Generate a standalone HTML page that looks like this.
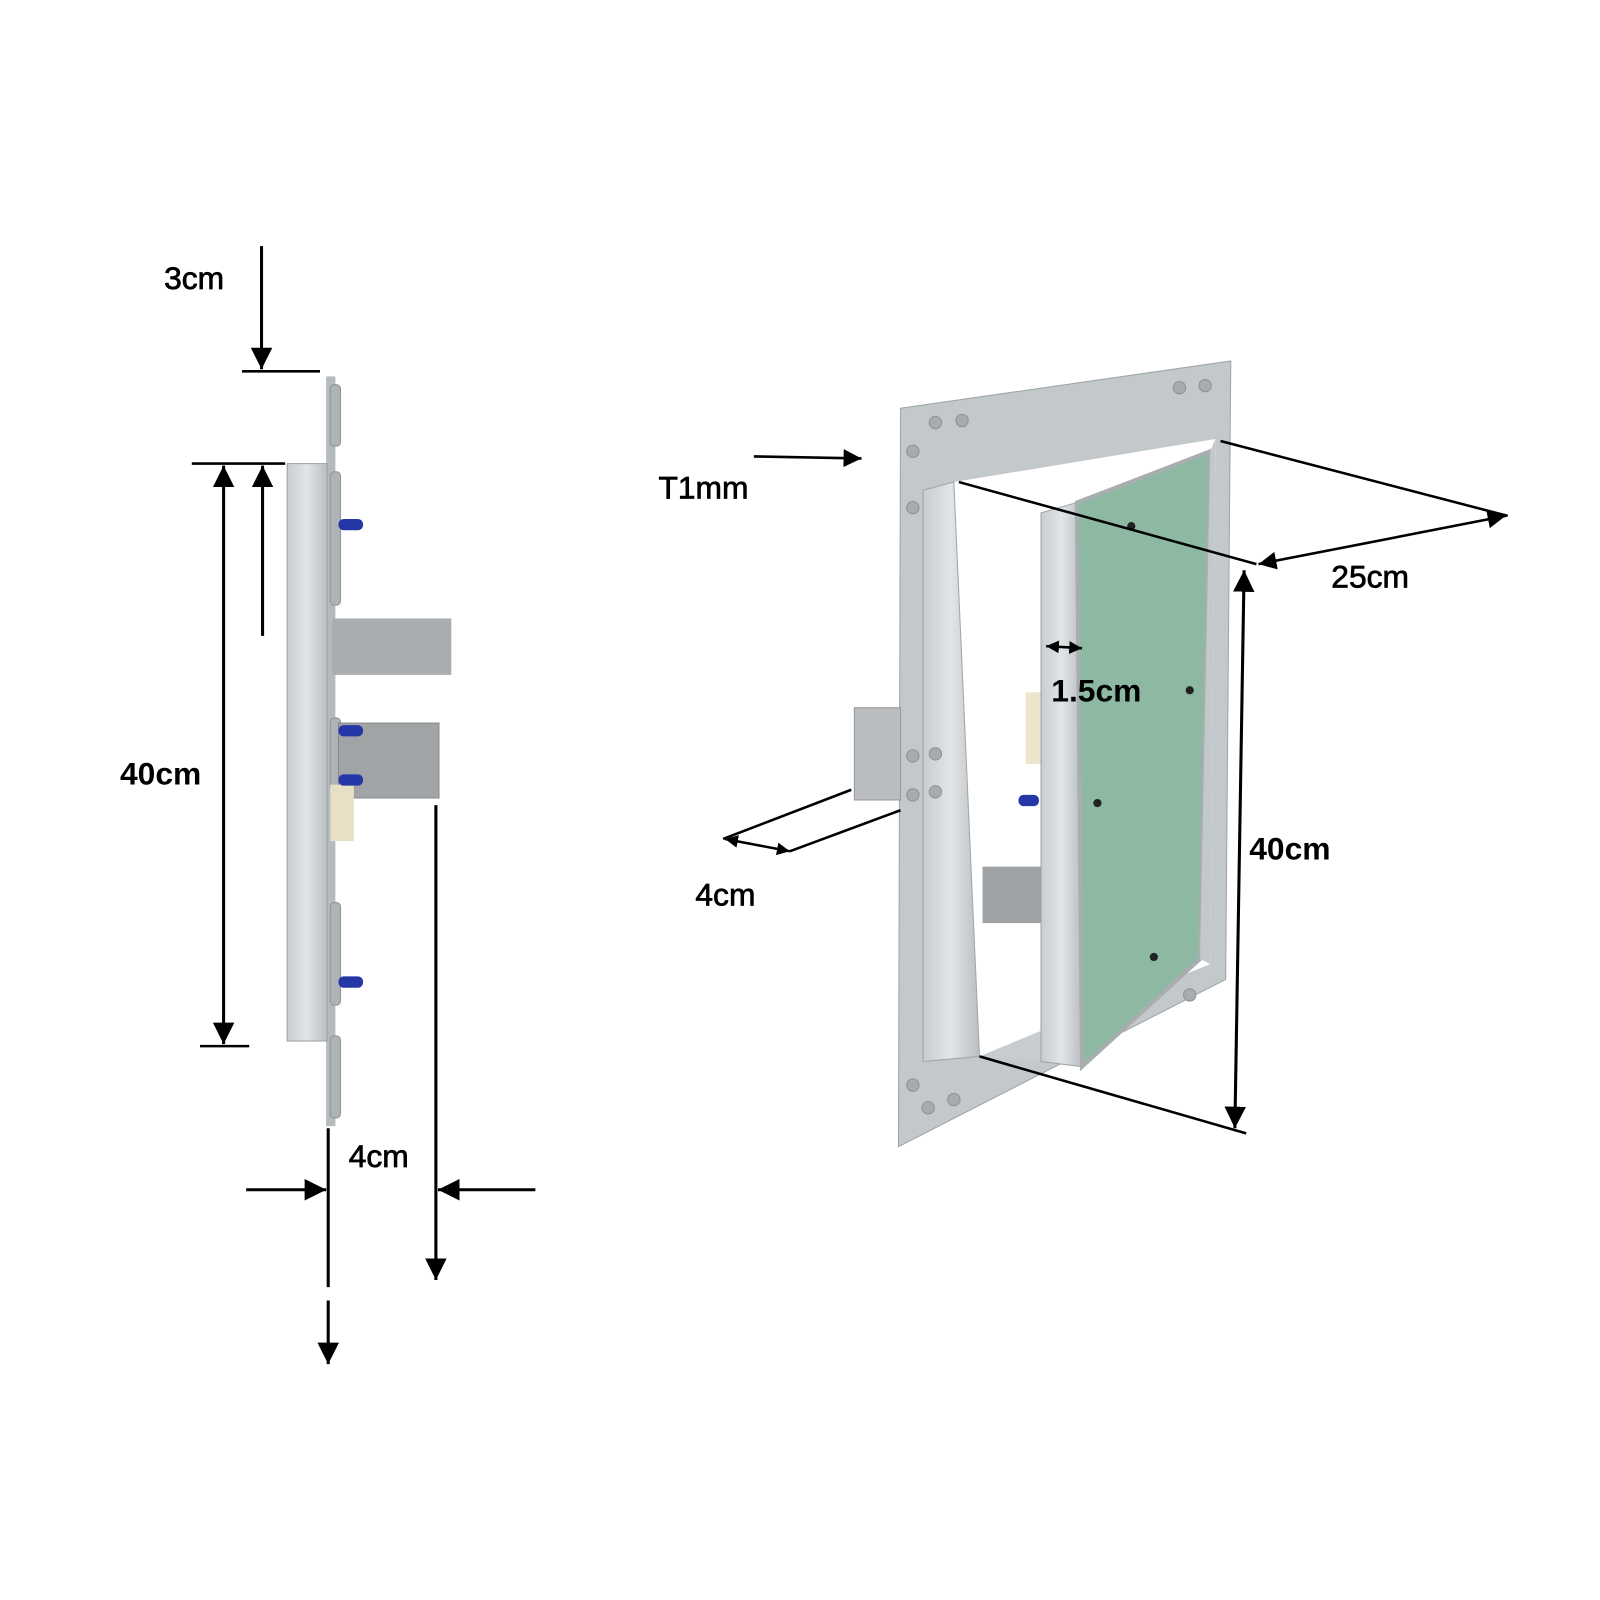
<!DOCTYPE html>
<html><head><style>html,body{margin:0;padding:0;background:#fff}svg{display:block}</style></head>
<body>
<svg width="1600" height="1600" viewBox="0 0 1560 1560" xmlns="http://www.w3.org/2000/svg" font-family="Liberation Sans, Arial, sans-serif">
<defs>
<marker id="a" viewBox="0 0 10 10" refX="10" refY="5" markerWidth="7" markerHeight="7" orient="auto-start-reverse"><path d="M0,0L10,5L0,10z" fill="#000"/></marker>
<marker id="s" viewBox="0 0 10 10" refX="10" refY="5" markerWidth="5" markerHeight="5" orient="auto-start-reverse"><path d="M0,0L10,5L0,10z" fill="#000"/></marker>
<linearGradient id="al" x1="0" x2="1"><stop offset="0" stop-color="#c9cdd0"/><stop offset=".5" stop-color="#e2e5e7"/><stop offset="1" stop-color="#b9bec2"/></linearGradient>
</defs>
<!-- LEFT side view -->
<rect x="318" y="367" width="9" height="731" fill="#b5babd"/>
<rect x="280" y="452" width="39" height="563" fill="url(#al)" stroke="#9aa0a4"/>
<g fill="#aeb3b6" stroke="#8d9397">
<rect x="322" y="375" width="10" height="60" rx="4"/><rect x="322" y="460" width="10" height="130" rx="4"/><rect x="322" y="700" width="10" height="70" rx="4"/><rect x="322" y="880" width="10" height="100" rx="4"/><rect x="322" y="1010" width="10" height="80" rx="4"/>
</g>
<rect x="324" y="603" width="116" height="55" fill="#a9adaf"/>
<rect x="330" y="705" width="98" height="73" fill="#a0a4a6" stroke="#888"/>
<rect x="322" y="765" width="23" height="55" fill="#e8e0c6"/>
<g fill="#2537a6"><rect x="330" y="506" width="24" height="11" rx="5"/><rect x="330" y="707" width="24" height="11" rx="5"/><rect x="330" y="755" width="24" height="11" rx="5"/><rect x="330" y="952" width="24" height="11" rx="5"/></g>
<g stroke="#000" stroke-width="3" fill="none">
<line x1="255" y1="240" x2="255" y2="360" marker-end="url(#a)"/>
<line x1="236" y1="362" x2="312" y2="362" stroke-width="2.5"/>
<line x1="187" y1="452" x2="278" y2="452" stroke-width="2.5"/>
<line x1="256" y1="620" x2="256" y2="454" marker-end="url(#a)"/>
<line x1="218" y1="454" x2="218" y2="1018" marker-start="url(#a)" marker-end="url(#a)"/>
<line x1="195" y1="1020" x2="243" y2="1020" stroke-width="2.5"/>
<line x1="425" y1="785" x2="425" y2="1248" marker-end="url(#a)"/>
<line x1="320" y1="1100" x2="320" y2="1255"/>
<line x1="320" y1="1268" x2="320" y2="1330" marker-end="url(#a)"/>
<line x1="240" y1="1160" x2="318" y2="1160" marker-end="url(#a)"/>
<line x1="522" y1="1160" x2="427" y2="1160" marker-end="url(#a)"/>
</g>
<g font-size="31" fill="#000" stroke="#000" stroke-width="0.7">
<text x="160" y="282">3cm</text>
<text x="117" y="765" font-weight="bold" stroke-width="0">40cm</text>
<text x="340" y="1138">4cm</text>
</g>
<!-- RIGHT perspective view -->
<polygon points="878,398 1200,352 1195,955 876,1118" fill="#c3c8cb" stroke="#9ea3a6"/>
<polygon points="930,470 1185,428 1180,940 955,1030" fill="#fff"/>
<polygon points="900,478 930,470 955,1030 900,1035" fill="url(#al)" stroke="#a0a5a8"/>
<polygon points="955,1030 1015,1005 1015,1035" fill="#c8cccf"/>
<rect x="958" y="845" width="57" height="55" fill="#9ea2a4"/>
<rect x="1000" y="675" width="20" height="70" fill="#ece4cc"/>
<rect x="993" y="775" width="20" height="11" rx="5" fill="#2537a6"/>
<polygon points="1015,500 1050,490 1055,1040 1015,1035" fill="url(#al)" stroke="#9ea3a6"/>
<polygon points="1050,490 1180,440 1170,935 1055,1040" fill="#8db9a3" stroke="#a8adb0" stroke-width="4"/>
<polygon points="1180,440 1185,428 1180,940 1170,935" fill="#c3c8cb"/>
<rect x="833" y="690" width="45" height="90" fill="#b9bdc0" stroke="#999"/>
<g fill="#222"><circle cx="1103" cy="513" r="4"/><circle cx="1160" cy="673" r="4"/><circle cx="1070" cy="783" r="4"/><circle cx="1125" cy="933" r="4"/></g>
<g fill="#a7acaf" stroke="#8c9195"><circle cx="912" cy="412" r="6"/><circle cx="938" cy="410" r="6"/><circle cx="1150" cy="378" r="6"/><circle cx="1175" cy="376" r="6"/><circle cx="890" cy="440" r="6"/><circle cx="890" cy="495" r="6"/><circle cx="890" cy="1058" r="6"/><circle cx="905" cy="1080" r="6"/><circle cx="930" cy="1072" r="6"/><circle cx="1160" cy="970" r="6"/><circle cx="890" cy="737" r="6"/><circle cx="912" cy="735" r="6"/><circle cx="890" cy="775" r="6"/><circle cx="912" cy="772" r="6"/></g>
<g stroke="#000" stroke-width="2.5" fill="none">
<line x1="735" y1="445" x2="840" y2="447" marker-end="url(#a)"/>
<line x1="935" y1="470" x2="1225" y2="550"/>
<line x1="1190" y1="430" x2="1470" y2="503"/>
<line x1="1227" y1="550" x2="1468" y2="503" marker-start="url(#a)" marker-end="url(#a)"/>
<line x1="1213" y1="556" x2="1204" y2="1100" stroke-width="3" marker-start="url(#a)" marker-end="url(#a)"/>
<line x1="955" y1="1030" x2="1215" y2="1105"/>
<line x1="1020" y1="630" x2="1055" y2="632" marker-start="url(#s)" marker-end="url(#s)"/>
<line x1="830" y1="770" x2="705" y2="818"/>
<line x1="878" y1="790" x2="770" y2="830"/>
<line x1="707" y1="818" x2="770" y2="830" marker-start="url(#s)" marker-end="url(#s)"/>
</g>
<g font-size="31" fill="#000" stroke="#000" stroke-width="0.7">
<text x="642" y="486">T1mm</text>
<text x="1298" y="573">25cm</text>
<text x="1025" y="684" font-weight="bold" stroke-width="0">1.5cm</text>
<text x="1218" y="838" font-weight="bold" stroke-width="0">40cm</text>
<text x="678" y="883">4cm</text>
</g>
</svg>
</body></html>
